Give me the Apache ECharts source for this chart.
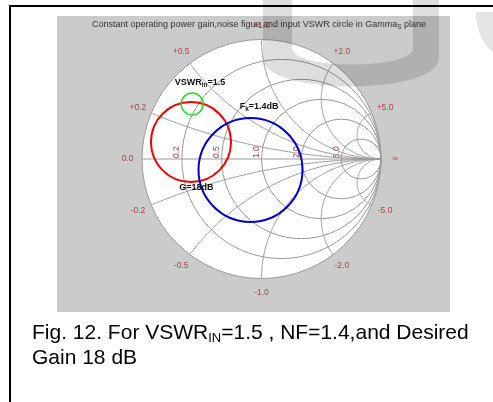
<!DOCTYPE html>
<html>
<head>
<meta charset="utf-8">
<script src="https://cdn.jsdelivr.net/npm/echarts@6/dist/echarts.min.js"></script>
<style>
  html, body { margin: 0; padding: 0; background: #ffffff; }
  #chart { width: 493px; height: 402px; }
</style>
</head>
<body>
<div id="chart"></div>
<script>
// Smith chart grid: normalized resistance circles and reactance arcs
const resistanceValues = [0.2, 0.5, 1.0, 2.0, 5.0];
const resistanceLabels = ['0.2', '0.5', '1.0', '2.0', '5.0'];
const reactanceValues = [0.2, 0.5, 1.0, 2.0, 5.0, -0.2, -0.5, -1.0, -2.0, -5.0];
const reactanceLabels = ['+0.2', '+0.5', '+1.0', '+2.0', '+5.0', '-0.2', '-0.5', '-1.0', '-2.0', '-5.0'];

// Circles in the Gamma_S plane: [centre real, centre imag, radius]
const gainCircle = [-0.59, 0.142, 0.335];   // G = 18 dB
const noiseCircle = [-0.092, -0.092, 0.435]; // F_k = 1.4 dB
const vswrCircle = [-0.58, 0.46, 0.092];    // VSWR_in = 1.5

// Circle annotations: [real, imag] anchor of each label
const vswrLabelPos = [-0.515, 0.64];
const noiseLabelPos = [-0.02, 0.437];
const gainLabelPos = [-0.545, -0.236];

const chart = echarts.init(document.getElementById('chart'), null, { renderer: 'canvas' });

// one unit of |Gamma| is the same number of pixels on both axes
const CX = 261.5, CY = 159, R = 119.5;
const xSpan = 1.6, ySpan = 1.2;

const gridColor = '#9a9a9a';
const tickColor = '#a04848';

function reactancePoints(x) {
  const ax = Math.abs(x), s = x > 0 ? 1 : -1;
  const cy = 1 / ax, rho = 1 / ax;
  const px = (ax * ax - 1) / (1 + ax * ax), py = 2 * ax / (1 + ax * ax);
  const a0 = Math.atan2(py - cy, px - 1);
  const a1 = -Math.PI / 2;
  let d = a1 - a0;
  while (d > Math.PI) d -= 2 * Math.PI;
  while (d <= -Math.PI) d += 2 * Math.PI;
  const pts = [];
  const n = 160;
  for (let i = 0; i <= n; i++) {
    const a = a0 + d * i / n;
    pts.push([1 + rho * Math.cos(a), s * (cy + rho * Math.sin(a))]);
  }
  return pts;
}

// sample a cubic Bezier into polygon vertices
function bezier(p0, p1, p2, p3, n) {
  const out = [];
  for (let i = 0; i <= n; i++) {
    const t = i / n, u = 1 - t;
    out.push([
      u * u * u * p0[0] + 3 * u * u * t * p1[0] + 3 * u * t * t * p2[0] + t * t * t * p3[0],
      u * u * u * p0[1] + 3 * u * u * t * p1[1] + 3 * u * t * t * p2[1] + t * t * t * p3[1]
    ]);
  }
  return out;
}

// faint overlay lettering across the top
const letterU = [[263, 0]]
  .concat(bezier([263, 58], [263, 96], [439, 96], [439, 58], 40))
  .concat([[439, 0], [413, 0]])
  .concat(bezier([413, 48], [413, 70], [292, 70], [292, 48], 40))
  .concat([[292, 0]]);
const letterArc = [[493, 12], [493, 52]]
  .concat(bezier([493, 52], [483, 45], [476, 30], [476, 12], 20));

function circleItem(color, width) {
  return function (params, api) {
    const c = api.coord([api.value(0), api.value(1)]);
    const r = api.size([api.value(2), 0])[0];
    return {
      type: 'circle',
      shape: { cx: c[0], cy: c[1], r: r },
      style: { fill: null, stroke: color, lineWidth: width }
    };
  };
}

const option = {
  animation: false,
  grid: {
    left: CX - xSpan * R,
    top: CY - ySpan * R,
    width: 2 * xSpan * R,
    height: 2 * ySpan * R
  },
  xAxis: { type: 'value', min: -xSpan, max: xSpan, show: false },
  yAxis: { type: 'value', min: -ySpan, max: ySpan, show: false },
  graphic: [
    { type: 'rect', z: -10, shape: { x: 57, y: 16, width: 393, height: 296 }, style: { fill: '#cbcbcb' } },
    {
      type: 'text', z: -9, x: 259, y: 25,
      style: {
        text: '{a|Constant operating power gain,noise figue and input VSWR circle in Gamma}{s|S}{a| plane}',
        align: 'center', verticalAlign: 'middle',
        rich: {
          a: { fontFamily: 'Liberation Sans', fontSize: 9, fill: '#333333' },
          s: { fontFamily: 'Liberation Sans', fontSize: 6.5, fill: '#333333', padding: [5, 0, 0, 0] }
        }
      }
    },
    {
      type: 'text', x: 32, y: 321,
      style: {
        text: '{n|Fig. 12. For VSWR}{s|IN}{n|=1.5 , NF=1.4,and Desired}\n{n|Gain 18 dB}',
        rich: {
          n: { fontFamily: 'Liberation Sans', fontSize: 21, fill: '#000000', lineHeight: 25 },
          s: { fontFamily: 'Liberation Sans', fontSize: 13, fill: '#000000', padding: [10, 0, 0, 0], lineHeight: 25 }
        }
      }
    },
    // frame rules
    { type: 'rect', shape: { x: 9, y: 5, width: 484, height: 2 }, style: { fill: '#000000' } },
    { type: 'rect', shape: { x: 9, y: 5, width: 2, height: 397 }, style: { fill: '#000000' } },
    { type: 'polygon', z: 100, shape: { points: letterU }, style: { fill: 'rgba(0,0,0,0.13)' } },
    { type: 'polygon', z: 100, shape: { points: letterArc }, style: { fill: 'rgba(0,0,0,0.1)' } }
  ],
  series: [
    {
      // chart disc and real axis
      type: 'custom', clip: false, silent: true, z: 1,
      data: [[0, 0, 1]],
      renderItem: function (params, api) {
        const c = api.coord([0, 0]);
        const r = api.size([1, 0])[0];
        const l = api.coord([-1, 0]), rt = api.coord([1, 0]);
        return {
          type: 'group',
          children: [
            { type: 'circle', shape: { cx: c[0], cy: c[1], r: r }, style: { fill: '#ffffff', stroke: gridColor, lineWidth: 1 } },
            { type: 'line', shape: { x1: l[0], y1: l[1], x2: rt[0], y2: rt[1] }, style: { stroke: gridColor, lineWidth: 1 } }
          ]
        };
      }
    },
    {
      // constant resistance circles
      type: 'custom', clip: false, silent: true, z: 2,
      data: resistanceValues.map(function (r, i) { return [r, i]; }),
      renderItem: function (params, api) {
        const r = api.value(0);
        const c = api.coord([r / (1 + r), 0]);
        const rad = api.size([1 / (1 + r), 0])[0];
        const cross = api.coord([(r - 1) / (r + 1), 0]);
        return {
          type: 'group',
          children: [
            { type: 'circle', shape: { cx: c[0], cy: c[1], r: rad }, style: { fill: null, stroke: gridColor, lineWidth: 1 } },
            {
              type: 'text', x: cross[0] - 5, y: cross[1] - 1, rotation: Math.PI / 2,
              style: {
                text: resistanceLabels[api.value(1)], fontFamily: 'Liberation Sans', fontSize: 8.5,
                fill: tickColor, align: 'left', verticalAlign: 'middle'
              }
            }
          ]
        };
      }
    },
    {
      // constant reactance arcs
      type: 'custom', clip: false, silent: true, z: 2,
      data: reactanceValues.map(function (x, i) { return [x, i]; }),
      renderItem: function (params, api) {
        const x = api.value(0);
        const pts = reactancePoints(x).map(function (p) { return api.coord(p); });
        const g = [(x * x - 1) / (1 + x * x), 2 * x / (1 + x * x)];
        const lp = api.coord([g[0] * 1.12, g[1] * 1.12]);
        return {
          type: 'group',
          children: [
            { type: 'polyline', shape: { points: pts }, style: { fill: null, stroke: gridColor, lineWidth: 1 } },
            {
              type: 'text', x: lp[0], y: lp[1],
              style: {
                text: reactanceLabels[api.value(1)], fontFamily: 'Liberation Sans', fontSize: 8.5,
                fill: tickColor, align: 'center', verticalAlign: 'middle'
              }
            }
          ]
        };
      }
    },
    {
      // ends of the real axis
      type: 'custom', clip: false, silent: true, z: 2,
      data: [[-1.12, 0], [1.12, 0]],
      renderItem: function (params, api) {
        const p = api.coord([api.value(0), api.value(1)]);
        return {
          type: 'text', x: p[0], y: p[1],
          style: {
            text: params.dataIndex === 0 ? '0.0' : '\u221e', fontFamily: 'Liberation Sans', fontSize: 8.5,
            fill: tickColor, align: 'center', verticalAlign: 'middle'
          }
        };
      }
    },
    { type: 'custom', name: 'G=18dB', clip: false, silent: true, z: 5, data: [gainCircle], renderItem: circleItem('#ee0000', 2) },
    { type: 'custom', name: 'Fk=1.4dB', clip: false, silent: true, z: 5, data: [noiseCircle], renderItem: circleItem('#0000cc', 2) },
    { type: 'custom', name: 'VSWRin=1.5', clip: false, silent: true, z: 5, data: [vswrCircle], renderItem: circleItem('#22dd22', 1.5) },
    {
      type: 'custom', clip: false, silent: true, z: 6,
      data: [vswrLabelPos.concat([0]), noiseLabelPos.concat([1]), gainLabelPos.concat([2])],
      renderItem: function (params, api) {
        const p = api.coord([api.value(0), api.value(1)]);
        const texts = [
          '{b|VSWR}{s|in}{b|=1.5}',
          '{b|F}{s|k}{b|=1.4dB}',
          '{b|G=18dB}'
        ];
        return {
          type: 'text', x: p[0], y: p[1],
          style: {
            text: texts[api.value(2)], align: 'center', verticalAlign: 'middle',
            rich: {
              b: { fontFamily: 'Liberation Sans', fontWeight: 'bold', fontSize: 9, fill: '#111111' },
              s: { fontFamily: 'Liberation Sans', fontWeight: 'bold', fontSize: 6.5, fill: '#111111', padding: [5, 0, 0, 0] }
            }
          }
        };
      }
    }
  ]
};

chart.setOption(option);
</script>
</body>
</html>
